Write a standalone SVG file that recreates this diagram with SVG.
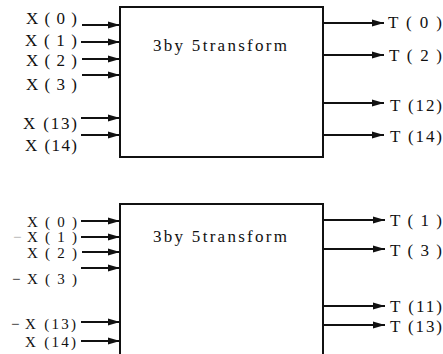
<svg xmlns="http://www.w3.org/2000/svg" width="443" height="354" viewBox="0 0 443 354">
<style>
text{font-family:'Liberation Serif','Times New Roman',serif;font-size:17px;fill:#111}
.sm{font-size:15px}
.box{fill:#fff;stroke:#111;stroke-width:2}
.arr{stroke:#111;stroke-width:2;fill:none;marker-end:url(#ah)}
.in{text-anchor:end}
.faint{fill:#aaa}
</style>
<defs>
<marker id="ah" viewBox="0 0 12 8" refX="12" refY="4" markerWidth="12" markerHeight="8" markerUnits="userSpaceOnUse" orient="auto">
<path d="M0,0.5 L12,4 L0,7.5 Z" fill="#111"/>
</marker>
</defs>
<g id="block1">
<rect class="box" x="120" y="7" width="203" height="150"/>
<text x="153" y="51" textLength="134" lengthAdjust="spacing">3by 5transform</text>
</g>
<g id="block2">
<path class="box" d="M120,356 L120,204 L323,204 L323,356"/>
<text x="153" y="242" textLength="134" lengthAdjust="spacing">3by 5transform</text>
</g>
<g id="inputs1">
<text class="in" x="77" y="24" textLength="51" lengthAdjust="spacing">X ( 0 )</text>
<text class="in" x="77" y="46" textLength="52" lengthAdjust="spacing">X ( 1 )</text>
<text class="in" x="77" y="66" textLength="51" lengthAdjust="spacing">X ( 2 )</text>
<text class="in" x="77" y="90" textLength="51" lengthAdjust="spacing">X ( 3 )</text>
<text class="in" x="77" y="129" textLength="54" lengthAdjust="spacing">X (13)</text>
<text class="in" x="77" y="151" textLength="52" lengthAdjust="spacing">X (14)</text>
</g>
<g id="outputs1">
<text x="388" y="28" textLength="54" lengthAdjust="spacing">T ( 0 )</text>
<text x="389" y="61" textLength="53" lengthAdjust="spacing">T ( 2 )</text>
<text x="390" y="111" textLength="52" lengthAdjust="spacing">T (12)</text>
<text x="390" y="142" textLength="52" lengthAdjust="spacing">T (14)</text>
</g>
<g id="inputs2">
<text class="in sm" x="77" y="227" textLength="50" lengthAdjust="spacing">X ( 0 )</text>
<text x="13" y="242" class="faint sm">−</text>
<text class="in sm" x="77" y="242" textLength="50" lengthAdjust="spacing">X ( 1 )</text>
<text class="in sm" x="77" y="258" textLength="50" lengthAdjust="spacing">X ( 2 )</text>
<text class="sm" x="12" y="284">−</text>
<text class="in sm" x="77" y="284" textLength="50" lengthAdjust="spacing">X ( 3 )</text>
<text class="sm" x="11" y="329">−</text>
<text class="in sm" x="76" y="329" textLength="51" lengthAdjust="spacing">X (13)</text>
<text class="in sm" x="76" y="347" textLength="51" lengthAdjust="spacing">X (14)</text>
</g>
<g id="outputs2">
<text x="390" y="226" textLength="52" lengthAdjust="spacing">T ( 1 )</text>
<text x="390" y="256" textLength="52" lengthAdjust="spacing">T ( 3 )</text>
<text x="390" y="312" textLength="52" lengthAdjust="spacing">T (11)</text>
<text x="390" y="332" textLength="52" lengthAdjust="spacing">T (13)</text>
</g>
<g id="connectors">
<line class="arr" x1="82" y1="25" x2="120" y2="25"/>
<line class="arr" x1="81" y1="42" x2="120" y2="42"/>
<line class="arr" x1="82" y1="59" x2="120" y2="59"/>
<line class="arr" x1="82" y1="75" x2="120" y2="75"/>
<line class="arr" x1="81" y1="118" x2="120" y2="118"/>
<line class="arr" x1="81" y1="135" x2="120" y2="135"/>
<line class="arr" x1="323" y1="23" x2="384" y2="23"/>
<line class="arr" x1="323" y1="55" x2="384" y2="55"/>
<line class="arr" x1="323" y1="103" x2="384" y2="103"/>
<line class="arr" x1="323" y1="135" x2="384" y2="135"/>
<line class="arr" x1="81" y1="221" x2="120" y2="221"/>
<line class="arr" x1="81" y1="237" x2="120" y2="237"/>
<line class="arr" x1="82" y1="252" x2="120" y2="252"/>
<line class="arr" x1="81" y1="268" x2="120" y2="268"/>
<line class="arr" x1="81" y1="322" x2="120" y2="322"/>
<line class="arr" x1="81" y1="341" x2="120" y2="341"/>
<line class="arr" x1="323" y1="220" x2="385" y2="220"/>
<line class="arr" x1="323" y1="249" x2="385" y2="249"/>
<line class="arr" x1="323" y1="306" x2="385" y2="306"/>
<line class="arr" x1="323" y1="325" x2="385" y2="325"/>
</g>
</svg>
